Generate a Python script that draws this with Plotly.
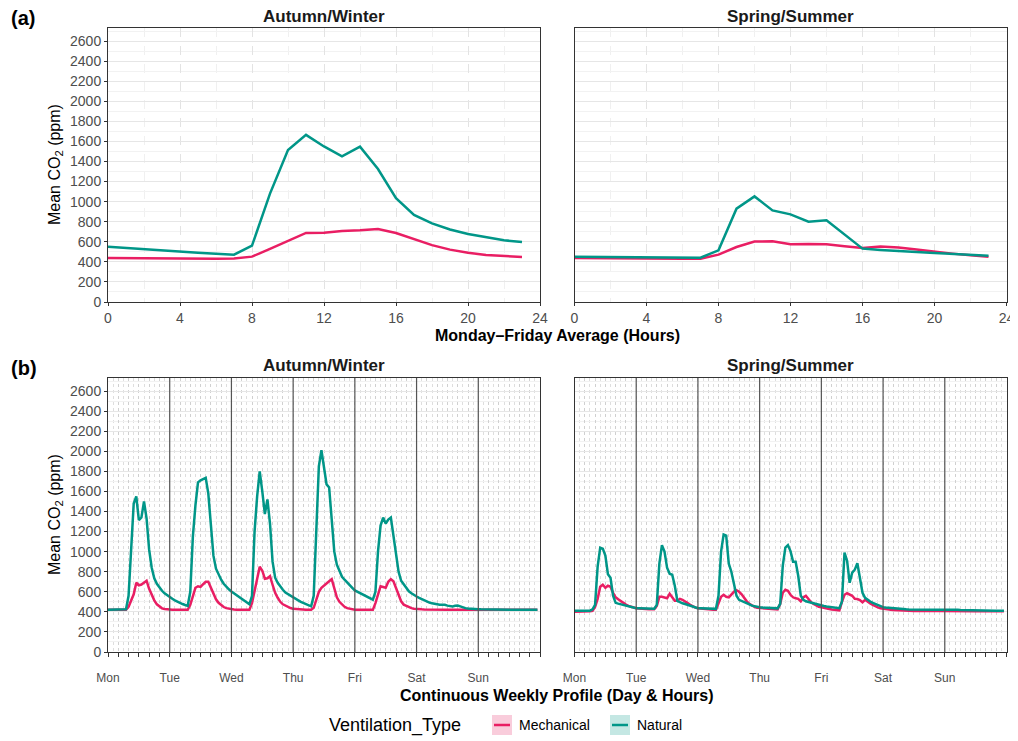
import plotly.graph_objects as go

# ---- data -----------------------------------------------------------------
hours = list(range(24))

# Monday-Friday average profile (a)
aw_mech_avg = [438, 436, 434, 433, 432, 432, 432, 433, 452, 530, 610, 688,
               690, 708, 714, 727, 688, 628, 567, 522, 490, 469, 455, 448]
aw_nat_avg = [550, 537, 524, 512, 501, 491, 481, 472, 562, 1080, 1515, 1665,
              1550, 1452, 1548, 1325, 1035, 868, 783, 722, 678, 643, 615, 597]
ss_mech_avg = [438, 436, 435, 434, 433, 433, 432, 432, 472, 548, 602, 605,
               576, 578, 575, 556, 539, 552, 542, 522, 500, 482, 466, 450]
ss_nat_avg = [452, 451, 450, 449, 448, 446, 444, 442, 515, 930, 1052, 913,
              873, 800, 814, 670, 532, 518, 505, 498, 489, 479, 469, 462]

# Continuous weekly profile (b), hourly Mon 00:00 -> Sun 23:00
days = ["Mon", "Tue", "Wed", "Thu", "Fri", "Sat", "Sun"]
week_hours = list(range(168))

aw_mech_week = [
    420, 420, 420, 420, 420, 420, 420, 420, 450, 510, 575, 690, 665, 672, 695, 710, 630, 570, 515, 475, 450, 435, 428, 423,
    421, 420, 420, 420, 420, 420, 420, 420, 470, 570, 640, 655, 648, 675, 700, 700, 635, 580, 525, 490, 465, 448, 437, 430,
    426, 423, 421, 420, 420, 420, 420, 421, 487, 600, 730, 850, 810, 730, 735, 755, 670, 590, 540, 500, 475, 460, 448, 438,
    430, 427, 425, 423, 422, 421, 420, 421, 440, 520, 600, 640, 665, 685, 705, 725, 620, 545, 500, 470, 450, 437, 430, 425,
    421, 420, 420, 420, 420, 420, 420, 420, 487, 580, 655, 648, 640, 700, 725, 705, 640, 560, 505, 472, 458, 445, 437, 432,
    428, 426, 425, 424, 423, 423, 422, 422, 422, 422, 421, 421, 421, 421, 421, 420, 420, 420, 420, 420, 420, 420, 420, 420,
    420, 420, 420, 420, 420, 420, 420, 420, 420, 420, 420, 420, 420, 420, 420, 420, 420, 420, 420, 420, 420, 420, 420, 420,
]
aw_nat_week = [
    420, 420, 420, 420, 420, 420, 420, 425, 560, 1000, 1480, 1550, 1313, 1340, 1500, 1330, 1020, 840, 735, 680, 640, 610, 585, 565,
    547, 530, 515, 500, 490, 478, 468, 460, 600, 1150, 1460, 1690, 1710, 1720, 1735, 1580, 1250, 960, 830, 770, 720, 680, 650, 625,
    603, 585, 570, 553, 535, 515, 497, 475, 560, 1200, 1550, 1800, 1600, 1375, 1520, 1280, 900, 740, 690, 650, 620, 592, 575, 560,
    547, 530, 515, 500, 487, 475, 463, 455, 560, 1200, 1850, 2010, 1850, 1670, 1640, 1280, 1000, 870, 800, 750, 720, 690, 665, 640,
    613, 600, 588, 575, 562, 548, 535, 522, 600, 1000, 1260, 1340, 1280, 1320, 1340, 1170, 950, 800, 710, 675, 630, 605, 585, 565,
    553, 540, 527, 515, 503, 493, 485, 478, 472, 470, 470, 470, 462, 455, 453, 460, 463, 455, 445, 437, 433, 430, 428, 427,
    427, 426, 425, 425, 424, 424, 423, 423, 422, 422, 422, 421, 421, 421, 421, 420, 420, 420, 420, 420, 420, 420, 420, 420,
]
ss_mech_week = [
    402, 402, 402, 402, 402, 403, 405, 410, 450, 530, 650, 670, 640, 660, 650, 590, 545, 525, 505, 488, 472, 460, 450, 440,
    436, 433, 430, 428, 427, 427, 427, 427, 460, 550, 550, 540, 535, 580, 540, 510, 510, 530, 520, 500, 487, 470, 455, 442,
    437, 433, 430, 427, 424, 422, 420, 420, 480, 550, 570, 550, 545, 575, 600, 615, 600, 575, 535, 505, 480, 462, 450, 440,
    438, 435, 432, 430, 428, 426, 425, 425, 480, 590, 620, 610, 570, 545, 535, 530, 505, 545, 560, 525, 495, 478, 462, 450,
    445, 438, 432, 427, 423, 420, 417, 415, 500, 570, 585, 575, 560, 530, 528, 518, 495, 520, 500, 485, 470, 455, 445, 435,
    430, 427, 424, 421, 419, 417, 415, 413, 412, 411, 410, 410, 409, 409, 408, 408, 408, 408, 408, 408, 408, 408, 408, 408,
    410, 412, 414, 413, 411, 410, 409, 408, 408, 407, 407, 407, 407, 406, 406, 406, 406, 406, 406, 405, 405, 405, 405, 405,
]
ss_nat_week = [
    410, 410, 410, 410, 410, 410, 412, 425, 470, 850, 1040, 1030, 960, 775, 740, 560, 490, 482, 475, 466, 458, 452, 448, 443,
    437, 436, 435, 434, 433, 432, 431, 430, 470, 880, 1065, 1000, 840, 780, 770, 660, 510, 495, 485, 478, 470, 460, 450, 442,
    437, 436, 435, 434, 433, 432, 431, 430, 560, 1000, 1170, 1160, 880, 800, 680, 560, 520, 510, 500, 490, 475, 462, 455, 450,
    447, 444, 442, 440, 438, 436, 435, 435, 480, 860, 1040, 1065, 1005, 900, 900, 760, 560, 520, 505, 498, 488, 480, 475, 468,
    463, 458, 453, 449, 445, 441, 438, 437, 500, 990, 910, 690, 790, 820, 885, 740, 590, 540, 520, 503, 490, 478, 465, 455,
    447, 443, 440, 437, 434, 432, 430, 428, 426, 425, 424, 423, 422, 421, 421, 420, 420, 420, 420, 420, 420, 420, 420, 420,
    422, 425, 426, 425, 422, 420, 418, 417, 416, 415, 415, 414, 414, 413, 413, 412, 412, 412, 412, 411, 411, 411, 410, 410,
]

MECH = "#E91E63"
NAT = "#009688"
FONT = "Liberation Sans, Arial, sans-serif"

# the page body adds an 8px margin, so the figure is 8px smaller and
# all pixel positions below (taken in window coordinates) are shifted by it
OFF = 8
W, H = 1018 - OFF, 741 - OFF


def px(x):
    return (x - OFF) / W


def py(y):
    return 1 - (y - OFF) / H


fig = go.Figure()

panels = [
    ("x", "y", hours, aw_mech_avg, aw_nat_avg),
    ("x2", "y2", hours, ss_mech_avg, ss_nat_avg),
    ("x3", "y3", week_hours, aw_mech_week, aw_nat_week),
    ("x4", "y4", week_hours, ss_mech_week, ss_nat_week),
]
for xa, ya, xs, mech, nat in panels:
    fig.add_trace(go.Scatter(x=xs, y=mech, mode="lines", name="Mechanical",
                             line=dict(color=MECH, width=2.5), xaxis=xa, yaxis=ya,
                             showlegend=False))
    fig.add_trace(go.Scatter(x=xs, y=nat, mode="lines", name="Natural",
                             line=dict(color=NAT, width=2.5), xaxis=xa, yaxis=ya,
                             showlegend=False))

# panel geometry (window pixels)
left_x = [108, 540]
right_x = [574.5, 1006.5]
top_y = [28, 302]
bot_y = [378, 652]

axis_common = dict(showline=True, linecolor="#333333", linewidth=1, mirror=True,
                   ticks="outside", ticklen=3, tickcolor="#333333", zeroline=False,
                   automargin=False)

top_x = dict(axis_common, range=[0, 24], dtick=4, tick0=0,
             tickfont=dict(family=FONT, size=14, color="#4D4D4D"),
             showgrid=True, gridcolor="#E3E3E3", griddash="dash", gridwidth=1,
             minor=dict(dtick=2, showgrid=True, gridcolor="#F0F0F0", gridwidth=1))

week_ticks = list(range(0, 169, 4))
week_text = [days[t // 24] if t % 24 == 0 and t < 168 else "" for t in week_ticks]
bot_x = dict(axis_common, range=[0, 168], tickmode="array", tickvals=week_ticks,
             ticktext=week_text, ticklabelstandoff=11, ticklen=4,
             tickfont=dict(family=FONT, size=12, color="#4D4D4D"),
             showgrid=True, gridcolor="#D0D0D0", griddash="3px,3px", gridwidth=1,
             minor=dict(dtick=2, tick0=0, showgrid=True, gridcolor="#DEDEDE",
                        griddash="3px,3px", gridwidth=1))

y_common = dict(axis_common, range=[0, 2730], dtick=200, tick0=0,
                showgrid=True, gridcolor="#E6E6E6", gridwidth=1,
                minor=dict(dtick=100, showgrid=True, gridcolor="#F2F2F2", gridwidth=1))
y_left = dict(y_common, tickfont=dict(family=FONT, size=14, color="#4D4D4D"))
y_right = dict(y_common, showticklabels=False, ticks="")

fig.update_layout(
    xaxis=dict(top_x, domain=[px(left_x[0]), px(left_x[1])], anchor="y"),
    xaxis2=dict(top_x, domain=[px(right_x[0]), px(right_x[1])], anchor="y2"),
    xaxis3=dict(bot_x, domain=[px(left_x[0]), px(left_x[1])], anchor="y3"),
    xaxis4=dict(bot_x, domain=[px(right_x[0]), px(right_x[1])], anchor="y4"),
    yaxis=dict(y_left, domain=[py(top_y[1]), py(top_y[0])], anchor="x"),
    yaxis2=dict(y_right, domain=[py(top_y[1]), py(top_y[0])], anchor="x2"),
    yaxis3=dict(y_left, domain=[py(bot_y[1]), py(bot_y[0])], anchor="x3"),
    yaxis4=dict(y_right, domain=[py(bot_y[1]), py(bot_y[0])], anchor="x4"),
)

# day separators in the weekly panels
for xa, ya in [("x3", "y3 domain"), ("x4", "y4 domain")]:
    for d in range(1, len(days)):
        fig.add_shape(type="line", xref=xa, yref=ya, x0=d * 24, x1=d * 24, y0=0, y1=1,
                      line=dict(color="#555555", width=1.2), layer="above")

ann = []


def text(x, y, s, size, bold=False, angle=0, xanchor="center", color="#1A1A1A"):
    ann.append(dict(x=px(x), y=py(y), xref="paper", yref="paper", text=f"<b>{s}</b>" if bold else s,
                    showarrow=False, xanchor=xanchor, yanchor="middle", textangle=angle,
                    borderpad=0, font=dict(family=FONT, size=size, color=color)))


text(10, 18, "(a)", 20, bold=True, xanchor="left", color="black")
text(10, 368, "(b)", 20, bold=True, xanchor="left", color="black")
for yy in (17, 365):
    text(sum(left_x) / 2, yy, "Autumn/Winter", 17, bold=True)
    text(sum(right_x) / 2, yy, "Spring/Summer", 17, bold=True)
text(557, 335, "Monday–Friday Average (Hours)", 16, bold=True, color="black")
text(557, 695, "Continuous Weekly Profile (Day & Hours)", 16, bold=True, color="black")
for yc in (sum(top_y) / 2, sum(bot_y) / 2):
    text(55, yc, "Mean CO<sub>2</sub> (ppm)", 16, angle=-90, color="black")

# legend (ggplot style keys)
text(328, 725, "Ventilation_Type", 18, xanchor="left", color="black")
for x0, col, fillc, lab in [(492, MECH, "#F9CCDB", "Mechanical"), (610, NAT, "#C4E7E3", "Natural")]:
    fig.add_shape(type="rect", xref="paper", yref="paper", x0=px(x0), x1=px(x0 + 20),
                  y0=py(735), y1=py(715), fillcolor=fillc, line=dict(width=0))
    fig.add_shape(type="line", xref="paper", yref="paper", x0=px(x0 + 2), x1=px(x0 + 18),
                  y0=py(725), y1=py(725), line=dict(color=col, width=2.5))
    text(x0 + 26, 725, lab, 14, xanchor="left", color="black")

fig.update_layout(
    annotations=ann,
    width=W, height=H,
    margin=dict(l=0, r=0, t=0, b=0),
    paper_bgcolor="white", plot_bgcolor="white",
    font=dict(family=FONT),
    showlegend=False,
)

fig.write_html("out.html")
